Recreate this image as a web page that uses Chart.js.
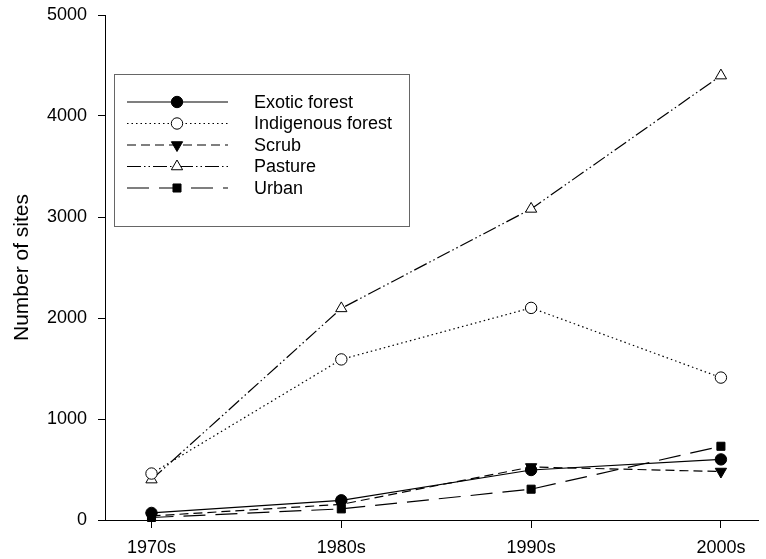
<!DOCTYPE html>
<html>
<head>
<meta charset="utf-8">
<script src="https://cdn.jsdelivr.net/npm/chart.js@4"></script>
<style>
  html, body { margin: 0; padding: 0; background: #fff; }
  #wrap { width: 766px; height: 559px; }
</style>
</head>
<body>
<div id="wrap"><canvas id="sitesChart" width="766" height="559"></canvas></div>
<script>
const decades = ["1970s", "1980s", "1990s", "2000s"];
const exoticForest = [70, 195, 495, 600];
const indigenousForest = [460, 1590, 2100, 1410];
const scrub = [40, 155, 525, 480];
const pasture = [400, 2095, 3080, 4400];
const urban = [25, 110, 305, 730];
const yTicks = [0, 1000, 2000, 3000, 4000, 5000];

const FONT = "Arial, 'Liberation Sans', sans-serif";

function toPoints(values) {
  return values.map((v, i) => ({ x: i, y: v }));
}

function series(label, values, dash, pointStyle, fill, rotation) {
  return {
    label: label,
    data: toPoints(values),
    borderColor: "#000",
    borderWidth: 1.2,
    borderDash: dash,
    pointStyle: pointStyle,
    pointRotation: rotation || 0,
    pointRadius: pointStyle === "triangle" ? 6.5 : 5.7,
    pointBackgroundColor: fill,
    pointBorderColor: "#000",
    pointBorderWidth: 1,
    tension: 0,
    fill: false,
    clip: false,
  };
}

// boxed legend with line sample + marker for each series
const boxLegend = {
  id: "boxLegend",
  afterDraw(chart) {
    const c = chart.ctx;
    const left = 114, top = 74, width = 295, height = 152;
    c.save();
    c.strokeStyle = "#666";
    c.lineWidth = 1;
    c.strokeRect(left + 0.5, top + 0.5, width, height);
    c.font = "18px " + FONT;
    c.textBaseline = "middle";
    chart.data.datasets.forEach((ds, i) => {
      const y = 102 + i * 21.5;
      c.beginPath();
      c.setLineDash(ds.borderDash);
      c.lineWidth = ds.borderWidth;
      c.strokeStyle = ds.borderColor;
      c.moveTo(127, y);
      c.lineTo(228, y);
      c.stroke();
      c.setLineDash([]);
      c.lineWidth = ds.pointBorderWidth;
      c.strokeStyle = ds.pointBorderColor;
      c.fillStyle = ds.pointBackgroundColor;
      Chart.helpers.drawPoint(c, {
        pointStyle: ds.pointStyle,
        radius: ds.pointRadius,
        rotation: ds.pointRotation,
        borderWidth: ds.pointBorderWidth,
      }, 177, y);
      c.fillStyle = "#000";
      c.fillText(ds.label, 254, y + 1);
    });
    c.restore();
  },
};

const ctx = document.getElementById("sitesChart").getContext("2d");

const sitesChart = new Chart(ctx, {
  type: "line",
  data: {
    datasets: [
      series("Exotic forest", exoticForest, [], "circle", "#000"),
      series("Indigenous forest", indigenousForest, [1.5, 3], "circle", "#fff"),
      series("Scrub", scrub, [9, 5], "triangle", "#000", 180),
      series("Pasture", pasture, [14, 3, 1.5, 3, 1.5, 3], "triangle", "#fff"),
      series("Urban", urban, [22, 10], "rect", "#000"),
    ],
  },
  options: {
    responsive: false,
    animation: false,
    devicePixelRatio: 1,
    layout: {
      padding: { top: 15, right: 0, left: 0, bottom: 0 },
    },
    plugins: {
      legend: { display: false },
      tooltip: { enabled: false },
    },
    scales: {
      x: {
        type: "linear",
        min: -0.245,
        max: 3.198,
        afterBuildTicks: (axis) => {
          axis.ticks = decades.map((d, i) => ({ value: i }));
        },
        afterFit: (axis) => {
          axis.height = 39;
          axis.paddingLeft = 0;
          axis.paddingRight = 0;
        },
        border: { display: true, color: "#000", width: 1 },
        grid: {
          drawOnChartArea: false,
          drawTicks: true,
          tickLength: 8,
          color: "#000",
        },
        ticks: {
          color: "#000",
          padding: 9,
          maxRotation: 0,
          font: { family: FONT, size: 18 },
          callback: (value) => decades[value],
        },
      },
      y: {
        min: 0,
        max: 5000,
        afterBuildTicks: (axis) => {
          axis.ticks = yTicks.map((v) => ({ value: v }));
        },
        afterFit: (axis) => {
          axis.width = 105;
          axis.paddingTop = 0;
          axis.paddingBottom = 0;
        },
        border: { display: true, color: "#000", width: 1 },
        grid: {
          drawOnChartArea: false,
          drawTicks: true,
          tickLength: 7,
          color: "#000",
        },
        ticks: {
          color: "#000",
          padding: 11,
          font: { family: FONT, size: 18 },
          callback: (value) => String(value),
        },
        title: {
          display: true,
          text: "Number of sites",
          color: "#000",
          font: { family: FONT, size: 21 },
          padding: { top: 10, bottom: 0 },
        },
      },
    },
  },
  plugins: [boxLegend],
});
</script>
</body>
</html>
